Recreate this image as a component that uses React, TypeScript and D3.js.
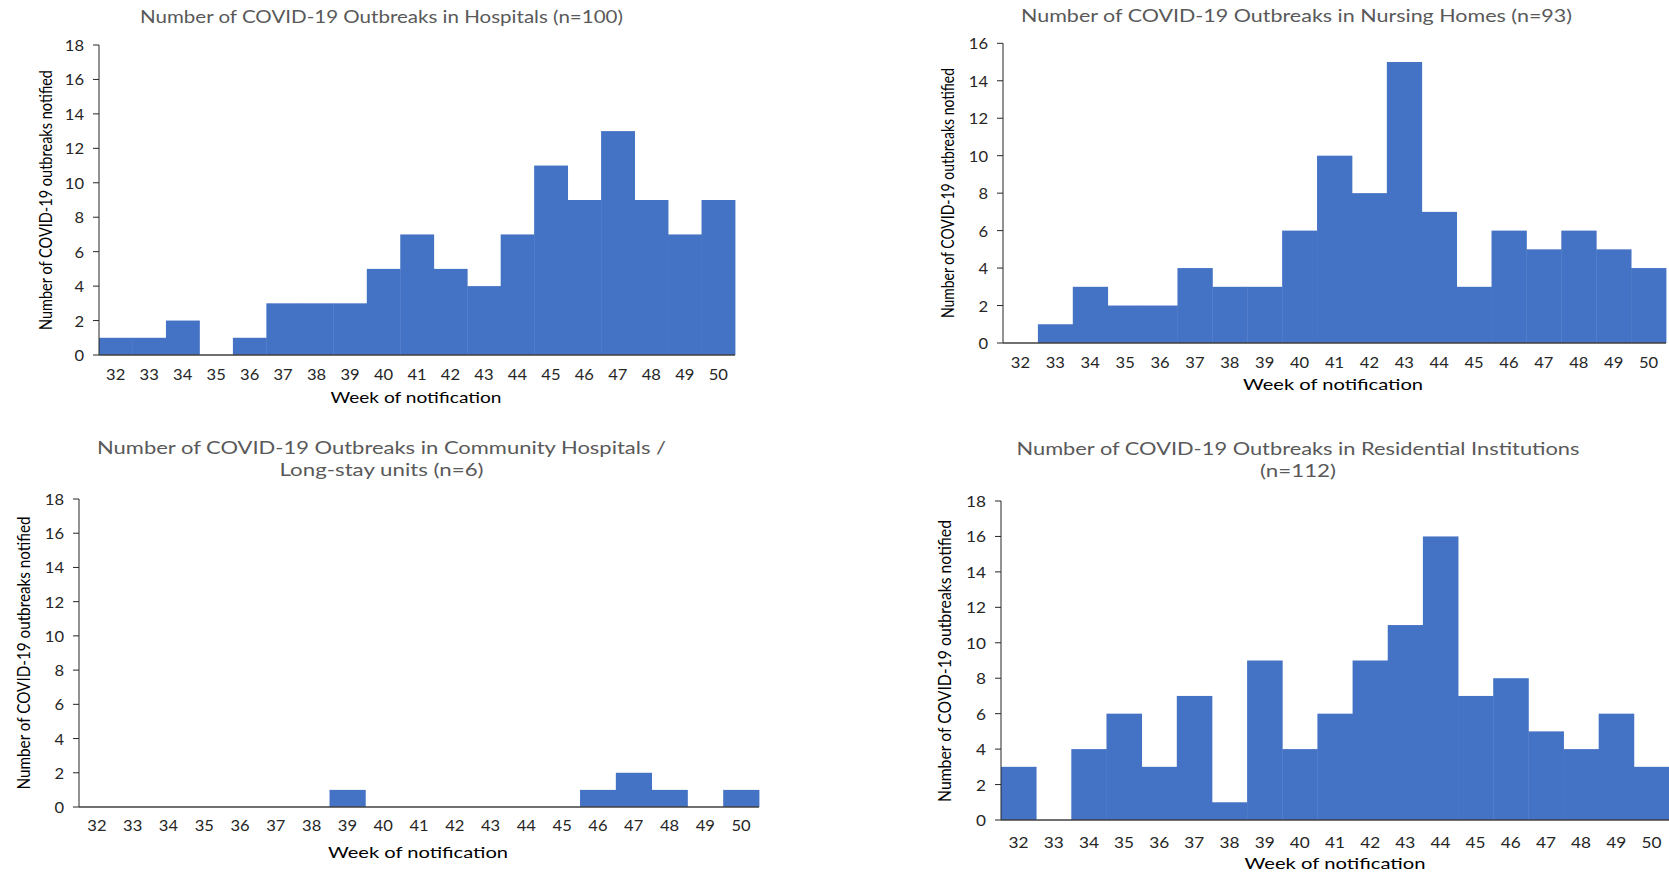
import React from "react";
import * as d3 from "d3";

const weeks = ["32","33","34","35","36","37","38","39","40","41","42","43","44","45","46","47","48","49","50"];

const hospitals = [1,1,2,0,1,3,3,3,5,7,5,4,7,11,9,13,9,7,9];
const nursingHomes = [0,1,3,2,2,4,3,3,6,10,8,15,7,3,6,5,6,5,4];
const communityHospitals = [0,0,0,0,0,0,0,1,0,0,0,0,0,0,1,2,1,0,1];
const residential = [3,0,4,6,3,7,1,9,4,6,9,11,16,7,8,5,4,6,3];

const titleHospitals = ["Number of COVID-19 Outbreaks in Hospitals (n=100)"];
const titleNursing = ["Number of COVID-19 Outbreaks in Nursing Homes (n=93)"];
const titleCommunity = ["Number of COVID-19 Outbreaks in Community Hospitals /", "Long-stay units (n=6)"];
const titleResidential = ["Number of COVID-19 Outbreaks in Residential Institutions", "(n=112)"];

const yAxisTitle = "Number of COVID-19 outbreaks notified";
const xAxisTitle = "Week of notification";

type Panel = {
  values: number[];
  title: string[];
  titleLens: number[];
  titleX: number;
  titleY: number;
  left: number;
  right: number;
  y0: number;
  yTop: number;
  yMax: number;
  tickY: number;
  xTitleX: number;
  xTitleY: number;
  xTitleLen: number;
  yTitleX: number;
  yTitleY: number;
  yTitleLen: number;
  digitW: number;
};

const panels: Panel[] = [
  {
    values: hospitals, title: titleHospitals, titleLens: [483], titleX: 381.5, titleY: 16,
    left: 99, right: 735, y0: 355, yTop: 45, yMax: 18, tickY: 374,
    xTitleX: 416, xTitleY: 396, xTitleLen: 171,
    yTitleX: 45, yTitleY: 200, yTitleLen: 260, digitW: 9.6,
  },
  {
    values: nursingHomes, title: titleNursing, titleLens: [551], titleX: 1296.5, titleY: 15.7,
    left: 1003, right: 1666, y0: 343, yTop: 43.3, yMax: 16, tickY: 362,
    xTitleX: 1333, xTitleY: 383, xTitleLen: 180,
    yTitleX: 947, yTitleY: 193, yTitleLen: 250, digitW: 9.6,
  },
  {
    values: communityHospitals, title: titleCommunity, titleLens: [569, 204], titleX: 381.5, titleY: 447,
    left: 79, right: 759, y0: 807, yTop: 499, yMax: 18, tickY: 825,
    xTitleX: 418, xTitleY: 851, xTitleLen: 180,
    yTitleX: 23, yTitleY: 653, yTitleLen: 273, digitW: 9.6,
  },
  {
    values: residential, title: titleResidential, titleLens: [563, 76], titleX: 1298, titleY: 448,
    left: 1001, right: 1669, y0: 820, yTop: 501, yMax: 18, tickY: 842,
    xTitleX: 1335, xTitleY: 862, xTitleLen: 181,
    yTitleX: 944, yTitleY: 661, yTitleLen: 282, digitW: 10,
  },
];

const FONT = "Lato, 'Open Sans', sans-serif";

function ChartPanel({ p }: { p: Panel }) {
  const x = d3.scaleBand<string>().domain(weeks).range([p.left, p.right]).padding(0);
  const y = d3.scaleLinear().domain([0, p.yMax]).range([p.y0, p.yTop]);
  const yTicks = d3.range(0, p.yMax + 1, 2);
  return (
    <g>
      {p.title.map((t, i) => (
        <text key={i} x={p.titleX} y={p.titleY + i * 22.5} textAnchor="middle" dominantBaseline="central"
          fontFamily={FONT} fontSize={17} fill="#595959"
          textLength={p.titleLens[i]} lengthAdjust="spacingAndGlyphs">{t}</text>
      ))}
      {weeks.map((w, i) => p.values[i] > 0 ? (
        <rect key={w} x={x(w)} y={y(p.values[i])} width={x.bandwidth() + 0.4}
          height={p.y0 - y(p.values[i])} fill="#4472C4" />
      ) : null)}
      <line x1={p.left} x2={p.left} y1={p.y0} y2={p.yTop} stroke="#262626" strokeWidth={1} />
      {yTicks.map((t) => (
        <g key={t}>
          <line x1={p.left - 6} x2={p.left} y1={y(t)} y2={y(t)} stroke="#262626" strokeWidth={1} />
          <text x={p.left - 15} y={y(t)} textAnchor="end" dominantBaseline="central"
            fontFamily={FONT} fontSize={15} fill="#262626"
            textLength={String(t).length * p.digitW} lengthAdjust="spacingAndGlyphs">{t}</text>
        </g>
      ))}
      <line x1={p.left} x2={p.right} y1={p.y0} y2={p.y0} stroke="#404040" strokeWidth={1.5} />
      {weeks.map((w) => (
        <text key={w} x={(x(w) as number) + x.bandwidth() / 2} y={p.tickY} textAnchor="middle"
          dominantBaseline="central" fontFamily={FONT} fontSize={15} fill="#262626"
          textLength={2 * p.digitW} lengthAdjust="spacingAndGlyphs">{w}</text>
      ))}
      <text x={p.xTitleX} y={p.xTitleY} textAnchor="middle" dominantBaseline="central"
        fontFamily={FONT} fontSize={16} fill="#000"
        textLength={p.xTitleLen} lengthAdjust="spacingAndGlyphs">{xAxisTitle}</text>
      <text transform={`translate(${p.yTitleX},${p.yTitleY}) rotate(-90)`} textAnchor="middle"
        dominantBaseline="central" fontFamily={FONT} fontSize={17.5} fill="#000"
        textLength={p.yTitleLen} lengthAdjust="spacingAndGlyphs">{yAxisTitle}</text>
    </g>
  );
}

export default function App() {
  return (
    <svg width={1669} height={873} style={{ position: "absolute", left: 0, top: 0, background: "#fff" }}>
      <rect x={0} y={0} width={1669} height={873} fill="#fff" />
      {panels.map((p, i) => <ChartPanel key={i} p={p} />)}
    </svg>
  );
}
